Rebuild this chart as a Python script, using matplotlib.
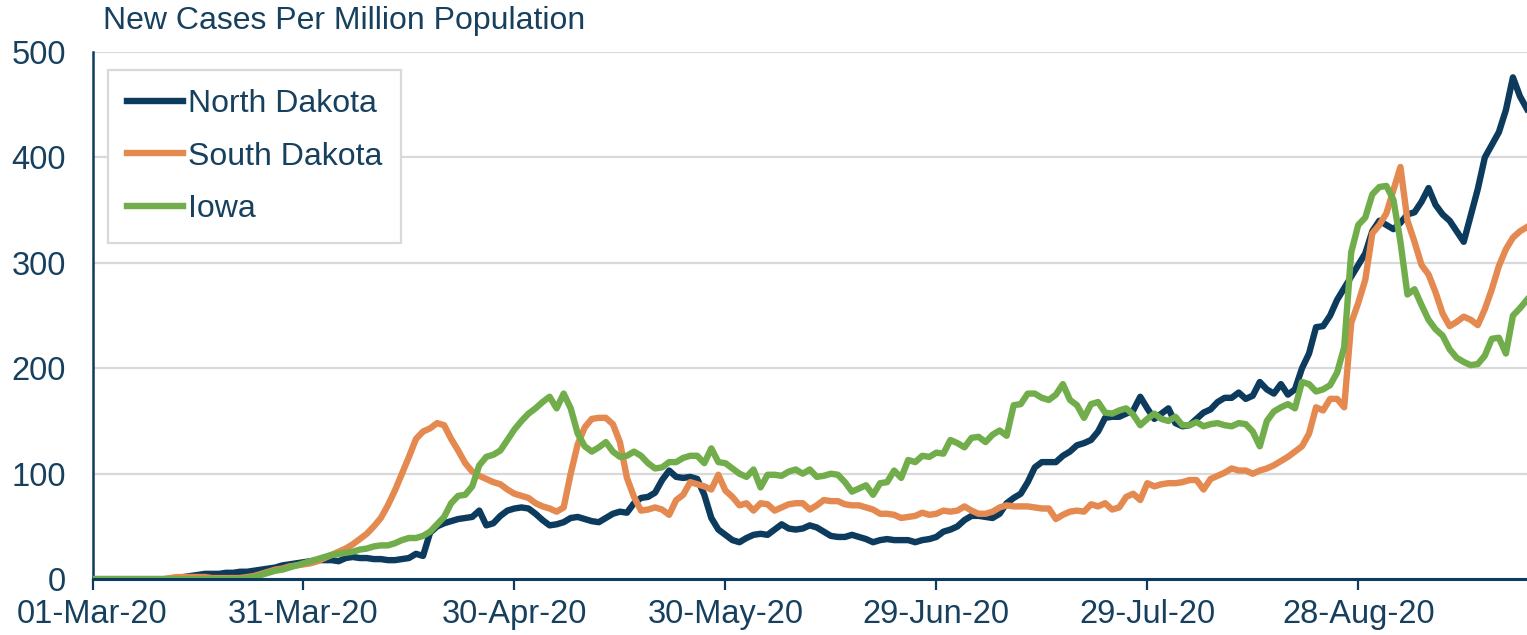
import matplotlib
matplotlib.use('Agg')
import matplotlib.pyplot as plt
import matplotlib.dates as mdates
import pandas as pd

font = {'family': ['Liberation Sans', 'DejaVu Sans'],
        'size': 23}
matplotlib.rc('font', **font)

########## data: new cases per million, daily from 01-Mar-20 ##########
start = '2020-03-01'
north_dakota = ([0] * 12 +
    [1, 2, 3, 4, 5, 5, 5, 6, 6, 7, 7] +
    [8, 9, 10, 11, 13, 14, 15, 16, 17, 18, 18, 18, 17] +
    [20, 21, 20, 20, 19, 19, 18, 18, 19, 20, 24, 22] +
    [44, 50, 53, 55, 57, 58, 59, 65, 51, 53, 60, 65] +
    [67, 68, 67, 62, 56, 51, 52, 54, 58, 59, 57, 55] +
    [54, 58, 62, 64, 63, 72, 77, 78, 82, 94, 103, 97] +
    [96, 97, 95, 80, 58, 47, 42, 37, 35, 39, 42, 43] +
    [42, 47, 52, 48, 47, 48, 51, 49, 45, 41, 40, 40] +
    [42, 40, 38, 35, 37, 38, 37, 37, 37, 35, 37, 38] +
    [40, 45, 47, 50, 56, 60, 60, 59, 58, 62, 72, 77] +
    [81, 92, 106, 111, 111, 111, 117, 121, 127, 129, 132, 140] +
    [153, 154, 154, 157, 160, 173, 162, 152, 157, 162, 148, 145] +
    [146, 152, 158, 161, 168, 172, 172, 177, 171, 174, 187, 180] +
    [176, 185, 175, 180, 200, 214, 239, 240, 250, 265, 276, 287] +
    [298, 309, 330, 340, 336, 332, 338, 346, 348, 358, 371, 355] +
    [346, 340, 330, 320, 345, 370, 400, 412, 424, 445, 476, 458, 446])

south_dakota = ([0] * 11 +
    [1, 2, 2, 2, 2, 2, 1, 1, 1, 1, 1, 2] +
    [3, 5, 7, 9, 10, 12, 13, 14, 15, 17, 20, 23, 26] +
    [29, 33, 38, 43, 50, 58, 70, 84, 100, 116, 133, 140] +
    [143, 148, 146, 133, 122, 110, 102, 98, 95, 92, 90, 85] +
    [81, 79, 77, 72, 69, 67, 64, 68, 100, 128, 144, 152] +
    [153, 153, 147, 130, 96, 78, 65, 66, 68, 66, 61, 75] +
    [80, 92, 90, 88, 85, 99, 84, 78, 70, 72, 65, 72] +
    [71, 65, 68, 71, 72, 72, 66, 70, 75, 74, 74, 71] +
    [70, 70, 68, 66, 62, 62, 61, 58, 59, 60, 63, 61] +
    [62, 65, 64, 65, 69, 65, 62, 62, 64, 68, 70, 69] +
    [69, 69, 68, 67, 67, 57, 61, 64, 65, 64, 71, 69] +
    [72, 66, 68, 78, 81, 75, 91, 88, 90, 91, 91, 92] +
    [94, 94, 85, 95, 98, 101, 105, 103, 103, 100, 103, 105] +
    [108, 112, 116, 121, 126, 138, 163, 160, 171, 171, 163, 243] +
    [262, 284, 328, 336, 347, 369, 391, 340, 320, 298, 289, 272] +
    [252, 240, 244, 249, 246, 241, 256, 275, 297, 313, 324, 330, 334])

iowa = ([0] * 22 +
    [1, 2, 4, 6, 8, 9, 11, 13, 15, 17, 19, 21, 23, 24] +
    [25, 26, 28, 29, 31, 32, 32, 34, 37, 39, 39, 41] +
    [45, 52, 59, 72, 79, 80, 88, 108, 116, 118, 122, 132] +
    [142, 150, 157, 162, 168, 173, 162, 176, 162, 138, 126, 121] +
    [125, 130, 121, 116, 117, 121, 117, 110, 105, 106, 111, 111] +
    [115, 117, 117, 110, 124, 111, 110, 105, 100, 97, 104, 87] +
    [99, 99, 98, 102, 104, 100, 104, 97, 98, 100, 99, 92] +
    [83, 86, 89, 80, 91, 92, 103, 96, 113, 111, 117, 116] +
    [120, 119, 132, 129, 125, 134, 135, 130, 137, 141, 136, 165] +
    [166, 176, 176, 172, 170, 175, 185, 170, 165, 153, 166, 168] +
    [158, 157, 160, 162, 156, 146, 152, 157, 152, 150, 154, 146] +
    [146, 149, 145, 147, 148, 146, 145, 148, 147, 140, 126, 150] +
    [159, 163, 166, 162, 187, 185, 178, 180, 184, 196, 220, 310] +
    [336, 343, 365, 372, 373, 360, 320, 270, 275, 260, 246, 237] +
    [231, 218, 210, 206, 203, 204, 212, 228, 229, 214, 250, 257, 265])

series = {'North Dakota': north_dakota, 'South Dakota': south_dakota, 'Iowa': iowa}
colors = {'North Dakota': '#0d3b5e', 'South Dakota': '#e4894f', 'Iowa': '#71ad4b'}
yticks = [0, 100, 200, 300, 400, 500]

dates = pd.date_range(start, periods=len(north_dakota))
xticks = pd.date_range(start, periods=7, freq='30D')
navy = '#0d3b5e'
text_col = '#17405f'

fig = plt.figure(figsize=(15.27, 6.35), dpi=100)
ax1 = fig.add_axes([0.0606, 0.088, 0.9394, 0.830])

for name, vals in series.items():
    ax1.plot(dates, vals, '-', color=colors[name], label=name, linewidth=4.6,
             solid_joinstyle='round', zorder=3)

ax1.set_ylim(0, 500)
ax1.set_xlim(dates[0], dates[-1])
ax1.set_yticks(yticks)
ax1.set_xticks(xticks)
ax1.xaxis.set_major_formatter(mdates.DateFormatter('%d-%b-%y'))
ax1.grid(axis='y', color='#d9d9d9', linewidth=1.6, zorder=0)
ax1.set_axisbelow(True)

for s in ['top', 'right']:
    ax1.spines[s].set_visible(False)
ax1.spines['left'].set_color(navy)
ax1.spines['left'].set_linewidth(1.8)
ax1.spines['bottom'].set_color(navy)
ax1.spines['bottom'].set_linewidth(2.2)
ax1.spines['bottom'].set_zorder(4)

ax1.tick_params(axis='y', length=0, pad=19, labelsize=23.5, labelcolor=text_col)
ax1.tick_params(axis='x', direction='out', length=8, width=1.6, color=navy,
                pad=6, labelsize=23.5, labelcolor=text_col)

fig.text(0.0675, 0.99, 'New Cases Per Million Population', ha='left', va='top',
         fontsize=23, color=text_col)

leg = ax1.legend(loc='upper left', bbox_to_anchor=(0.0108, 0.966), borderaxespad=0,
                 fontsize=23, handlelength=1.75, handletextpad=0.15, labelspacing=0.7,
                 borderpad=0.6, fancybox=False, framealpha=1, edgecolor='#d9d9d9')
leg.get_frame().set_linewidth(1.6)
for t in leg.get_texts():
    t.set_color(text_col)

plt.savefig('out.png', dpi=100)
